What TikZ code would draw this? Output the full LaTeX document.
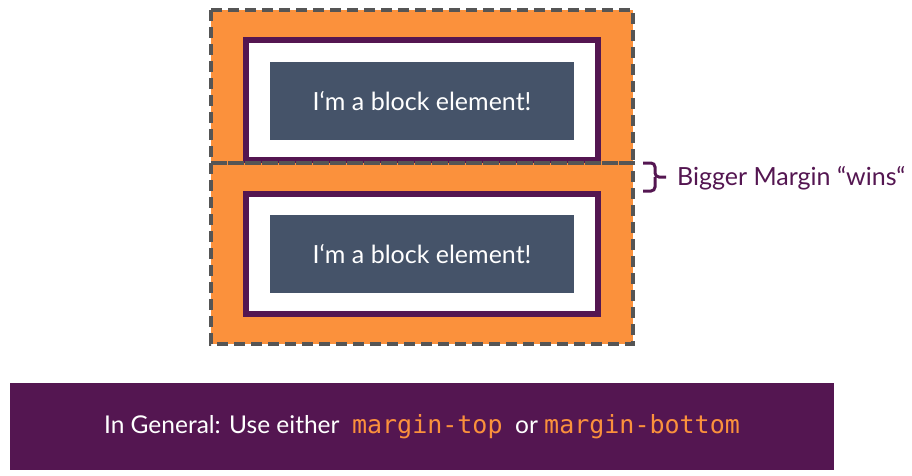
\documentclass[tikz,border=0pt]{standalone}
\usepackage{fontspec}
\setmainfont{Lato}
\setmonofont{DejaVu Sans Mono}
\usetikzlibrary{positioning}
\definecolor{boxorange}{HTML}{FB913C}
\definecolor{boxpurple}{HTML}{541651}
\definecolor{boxslate}{HTML}{455369}
\definecolor{dashgray}{HTML}{555555}
\tikzstyle{element} = [rectangle, fill=boxslate, text=white, minimum width=304pt,
  minimum height=78pt, inner sep=0pt, font=\fontsize{25}{30}\selectfont]
\tikzstyle{border} = [rectangle, draw=boxpurple, line width=6pt, fill=white,
  minimum width=352pt, minimum height=120pt, inner sep=0pt]
\tikzstyle{marginbox} = [draw=dashgray, line width=3.5pt, dash pattern=on 11pt off 6pt]

\begin{document}
\begin{tikzpicture}[x=1pt, y=-1pt]
    \useasboundingbox (0,0) rectangle (912,476);
    % margin area
    \fill[boxorange] (211,10) rectangle (633,344);
    \node[border] (b1) at (422,100) {};
    \node[border] (b2) at (422,253.5) {};
    \node[element] (e1) at (422,101) {I‘m a block element!};
    \node[element] (e2) at (422,254) {I‘m a block element!};
    \draw[marginbox] (211,10) rectangle (633,163);
    \draw[marginbox] (211,163) rectangle (633,344);
    % brace and label
    \node[anchor=west, text=boxpurple, inner sep=0pt, font=\fontsize{25}{30}\selectfont] (wins) at (677,178) {Bigger Margin “wins“};
    \draw[boxpurple, line width=3pt, rounded corners=4pt] (643,163) -- (655,163) -- (655,177) -- (666,177);
    \draw[boxpurple, line width=3pt, rounded corners=4pt] (643,191) -- (655,191) -- (655,177);
    % general note
    \node[rectangle, fill=boxpurple, minimum width=824pt, minimum height=87pt, inner sep=0pt,
      text=white, font=\fontsize{24.5}{30}\selectfont] (note) at (422,426.5)
      {In General: Use either \ {\color{boxorange}\fontsize{25}{30}\selectfont\ttfamily margin-top} \ or {\color{boxorange}\fontsize{25}{30}\selectfont\ttfamily margin-bottom}};
  \end{tikzpicture}
\end{document}
